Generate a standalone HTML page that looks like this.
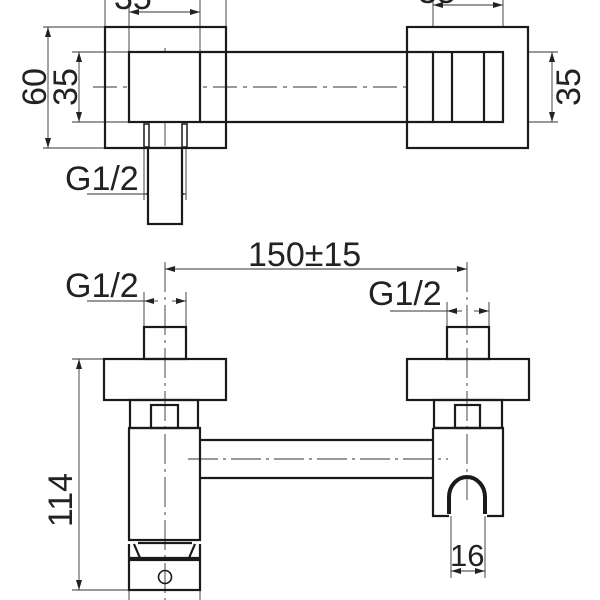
<!DOCTYPE html>
<html><head><style>html,body{margin:0;padding:0;background:#fff}svg{display:block}</style></head>
<body>
<svg width="600" height="600" viewBox="0 0 600 600" xmlns="http://www.w3.org/2000/svg">
<defs>
<marker id="a" viewBox="0 0 10 6" refX="10" refY="3" markerWidth="10" markerHeight="6" markerUnits="userSpaceOnUse" orient="auto-start-reverse"><path d="M0,0 L10,3 L0,6 z" fill="#222"/></marker>
</defs>
<g font-family="Liberation Sans, sans-serif" fill="#222" font-size="34">
<g stroke="#333" stroke-width="0.9" fill="none">
 <line x1="105" y1="0" x2="105" y2="27"/><line x1="226" y1="0" x2="226" y2="27"/>
 <line x1="129" y1="0" x2="129" y2="52"/><line x1="200" y1="0" x2="200" y2="52"/>
 <line x1="433" y1="0" x2="433" y2="52"/><line x1="503" y1="0" x2="503" y2="52"/>
 <line x1="43" y1="27" x2="105" y2="27"/><line x1="43" y1="148" x2="105" y2="148"/>
 <line x1="72" y1="52" x2="129" y2="52"/><line x1="72" y1="122" x2="129" y2="122"/>
 <line x1="503" y1="52" x2="558" y2="52"/><line x1="503" y1="122" x2="558" y2="122"/>
 <line x1="144" y1="148" x2="144" y2="200"/><line x1="186" y1="148" x2="186" y2="200"/>
 <line x1="87" y1="194" x2="186" y2="194"/>
 <line x1="129" y1="12" x2="200" y2="12" marker-start="url(#a)" marker-end="url(#a)"/>
 <line x1="433" y1="5" x2="503" y2="5" marker-start="url(#a)" marker-end="url(#a)"/>
 <line x1="48" y1="27" x2="48" y2="148" marker-start="url(#a)" marker-end="url(#a)"/>
 <line x1="79" y1="52" x2="79" y2="122" marker-start="url(#a)" marker-end="url(#a)"/>
 <line x1="552" y1="52" x2="552" y2="122" marker-start="url(#a)" marker-end="url(#a)"/>
 <line x1="160" y1="194" x2="144" y2="194" marker-end="url(#a)"/>
 <line x1="170" y1="194" x2="186" y2="194" marker-end="url(#a)"/>
 <line x1="93" y1="87" x2="530" y2="87" stroke-dasharray="24,6,4,6"/>
 <line x1="165" y1="48" x2="165" y2="160" stroke-dasharray="24,5,3,5"/>
 <line x1="467" y1="47" x2="467" y2="128"/>
 <line x1="165" y1="262" x2="165" y2="600" stroke-dasharray="30,5,3,5"/>
 <line x1="467" y1="262" x2="467" y2="500" stroke-dasharray="30,5,3,5"/>
 <line x1="165" y1="269" x2="467" y2="269" marker-start="url(#a)" marker-end="url(#a)"/>
 <line x1="144" y1="292" x2="144" y2="327"/><line x1="186" y1="292" x2="186" y2="327"/>
 <line x1="87" y1="301" x2="144" y2="301"/>
 <line x1="158" y1="301" x2="144" y2="301" marker-end="url(#a)"/>
 <line x1="172" y1="301" x2="186" y2="301" marker-end="url(#a)"/>
 <line x1="447" y1="302" x2="447" y2="327"/><line x1="489" y1="302" x2="489" y2="327"/>
 <line x1="390" y1="311" x2="447" y2="311"/>
 <line x1="462" y1="311" x2="447" y2="311" marker-end="url(#a)"/>
 <line x1="474" y1="311" x2="489" y2="311" marker-end="url(#a)"/>
 <line x1="72" y1="359" x2="104" y2="359"/><line x1="72" y1="590" x2="129" y2="590"/>
 <line x1="79" y1="359" x2="79" y2="590" marker-start="url(#a)" marker-end="url(#a)"/>
 <line x1="188" y1="459" x2="448" y2="459" stroke-dasharray="30,5,3,5"/>
 <line x1="451" y1="516" x2="451" y2="578"/><line x1="485" y1="516" x2="485" y2="578"/>
 <line x1="451" y1="571" x2="485" y2="571" marker-start="url(#a)" marker-end="url(#a)"/>
 <line x1="129" y1="590" x2="129" y2="600"/><line x1="200" y1="590" x2="200" y2="600"/>
</g>
<g stroke="#1a1a1a" stroke-width="2.2" fill="none">
 <rect x="105" y="27" width="121" height="121"/>
 <rect x="407" y="27" width="121" height="121" fill="#fff"/>
 <path d="M200,52 H433 M200,122 H433"/>
 <rect x="129" y="52" width="71" height="70" fill="#fff"/>
 <rect x="433" y="52" width="70" height="70" fill="#fff"/>
 <line x1="452" y1="52" x2="452" y2="122"/><line x1="484" y1="52" x2="484" y2="122"/>
 <rect x="148" y="148" width="34" height="76" fill="#fff"/>
 <rect x="144" y="124" width="5" height="23" stroke-width="1.5"/>
 <rect x="182" y="124" width="5" height="23" stroke-width="1.5"/>
 <rect x="144" y="327" width="42" height="32"/>
 <rect x="104" y="359" width="122" height="41"/>
 <rect x="130" y="400" width="68" height="28"/>
 <rect x="151" y="405" width="27" height="23"/>
 <rect x="129" y="428" width="71" height="112"/>
 <path d="M129,544 L129,558 L200,558 L200,544 M134,544 L140,558 M195,544 L189,558 M138,543 H192"/>
 <rect x="129" y="560" width="71" height="30"/>
 <circle cx="165" cy="577" r="6.5" stroke-width="1.6"/>
 <path d="M200,440 H433 M200,478 H433"/>
 <rect x="447" y="327" width="42" height="32"/>
 <rect x="407" y="359" width="122" height="41"/>
 <rect x="434" y="400" width="68" height="28"/>
 <rect x="455" y="405" width="25" height="23"/>
 <path d="M433,428 H503 V516 H487 M449,516 H433 V428"/>
 <path d="M449,514 V497 A18,20 0 0 1 485,497 V514" stroke-width="4"/>
</g>
<text x="114" y="9">35</text>
<text x="418" y="3">35</text>
<text transform="translate(46,87) rotate(-90)" text-anchor="middle">60</text>
<text transform="translate(77,87) rotate(-90)" text-anchor="middle">35</text>
<text transform="translate(580,87) rotate(-90)" text-anchor="middle">35</text>
<text x="65" y="190">G1/2</text>
<text x="248" y="266">150±15</text>
<text x="65" y="297">G1/2</text>
<text x="368" y="305">G1/2</text>
<text transform="translate(72,500) rotate(-90)" text-anchor="middle">114</text>
<text x="450" y="566" font-size="31">16</text>
</g>
</svg>
</body></html>
